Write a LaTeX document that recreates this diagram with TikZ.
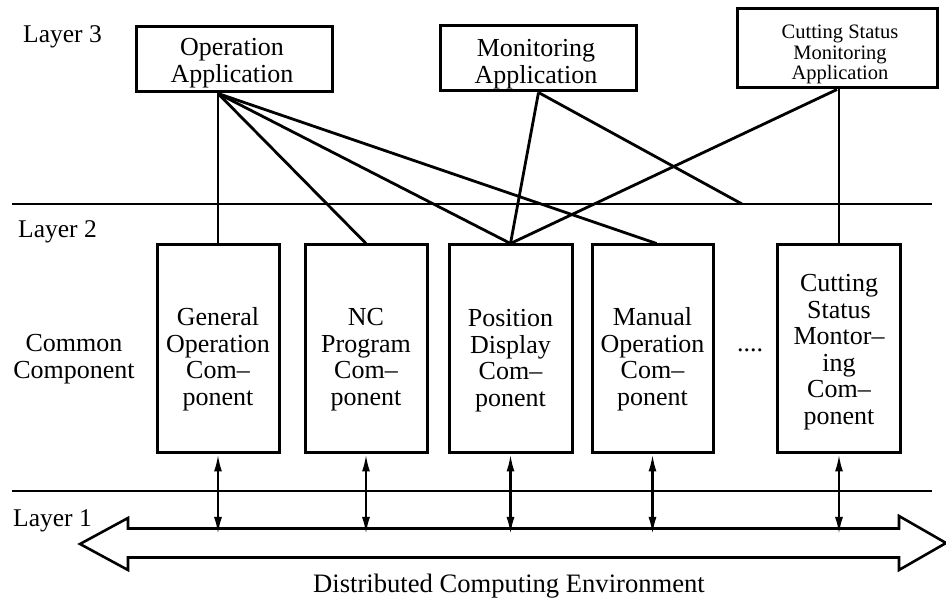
\documentclass[tikz,border=0pt]{standalone}
\usepackage{fontspec}
\setmainfont{Liberation Serif}
\usetikzlibrary{arrows.meta,calc}

% centred multi-line text whose baseline is that of the first line
\newcommand{\linestack}[1]{\begin{tabular}[t]{@{}c@{}}#1\end{tabular}}

\begin{document}
\begin{tikzpicture}[x=1pt,y=-1pt,
  box/.style={draw, line width=3pt, inner sep=0pt},
  conn/.style={line width=2.8pt},
  layerline/.style={line width=2.6pt},
  lbl/.style={inner sep=0pt, anchor=base, font=\fontsize{26}{26.5}\selectfont},
  layerlbl/.style={inner sep=0pt, anchor=base west, font=\fontsize{25.5}{26}\selectfont},
  smalllbl/.style={inner sep=0pt, anchor=base, font=\fontsize{20.5}{20.5}\selectfont},
  dbl/.style={line width=2.2pt, {Latex[length=17pt,width=8pt]}-{Latex[length=17pt,width=8pt]}},
  bus/.style={line width=2.6pt, line join=miter}
]
\fill[white] (0,0) rectangle (946,601);
\useasboundingbox (0,0) rectangle (946,601);

% layer boundaries
\draw[layerline] (12,204) -- (932,204);
\draw[layerline] (12,491) -- (932,491);

% layer captions
\node[layerlbl] (l3) at (23,43) {Layer 3};
\node[layerlbl] (l2) at (18,238) {Layer 2};
\node[layerlbl] (l1) at (13,527) {Layer 1};
\node[lbl] (cc) at (74,352) {\linestack{Common\\Component}};

% layer 3: applications
\node[box, minimum width=196pt, minimum height=65pt] (opapp) at (234.5,59.5) {};
\node[lbl] (opappT) at (232,56) {\linestack{Operation\\Application}};
\node[box, minimum width=196pt, minimum height=65pt] (monapp) at (538.5,58.5) {};
\node[lbl] (monappT) at (536,57) {\linestack{Monitoring\\Application}};
\node[box, minimum width=200pt, minimum height=79pt] (csapp) at (837,48.5) {};
\node[smalllbl] (csappT) at (840,39) {\linestack{Cutting Status\\Monitoring\\Application}};

% layer 2: common components
\node[box, minimum width=122pt, minimum height=208pt] (gen) at (218,349) {};
\node[lbl] (genT) at (218,326) {\linestack{General\\Operation\\Com–\\ponent}};
\node[box, minimum width=122pt, minimum height=208pt] (nc) at (366,349) {};
\node[lbl] (ncT) at (366,326) {\linestack{NC\\Program\\Com–\\ponent}};
\node[box, minimum width=123pt, minimum height=208pt] (pos) at (510.5,349) {};
\node[lbl] (posT) at (510.5,327) {\linestack{Position\\Display\\Com–\\ponent}};
\node[box, minimum width=121pt, minimum height=208pt] (man) at (652.5,349) {};
\node[lbl] (manT) at (652.5,326) {\linestack{Manual\\Operation\\Com–\\ponent}};
\node[lbl] (dots) at (750,352) {....};
\node[box, minimum width=123pt, minimum height=208pt] (cscomp) at (839,349) {};
\node[lbl] (cscompT) at (839,292) {\linestack{Cutting\\Status\\Montor–\\ing\\Com–\\ponent}};

% application-to-component links
\coordinate (opfoot) at (opapp.south -| gen.north);
\coordinate (monend) at (742,204);
\draw[conn] (opfoot) -- (gen.north);
\draw[conn] (opfoot) -- (nc.north);
\draw[conn] (opfoot) -- (pos.north);
\draw[conn] (opfoot) -- ([xshift=4pt]man.north);
\draw[conn] (monapp.south) -- (pos.north);
\draw[conn] (monapp.south) -- (monend);
\draw[conn] (csapp.south) -- (pos.north);
\draw[conn] (cscomp.north |- csapp.south) -- (cscomp.north);

% layer 1: distributed computing bus
\draw[bus] (128,528.5) -- (899,528.5) -- (899,516) -- (946,543) -- (899,570)
  -- (899,557.5) -- (128,557.5) -- (128,570) -- (80,544) -- (128,518) -- cycle;
\coordinate (busin) at (0,534);
\node[lbl, font=\fontsize{26.6}{27}\selectfont] (dce) at (509,592) {Distributed Computing Environment};

% component-to-bus links
\foreach \c in {gen,nc,pos,man,cscomp}
  \draw[dbl] (\c.south) -- (\c.south |- busin);
\end{tikzpicture}
\end{document}
